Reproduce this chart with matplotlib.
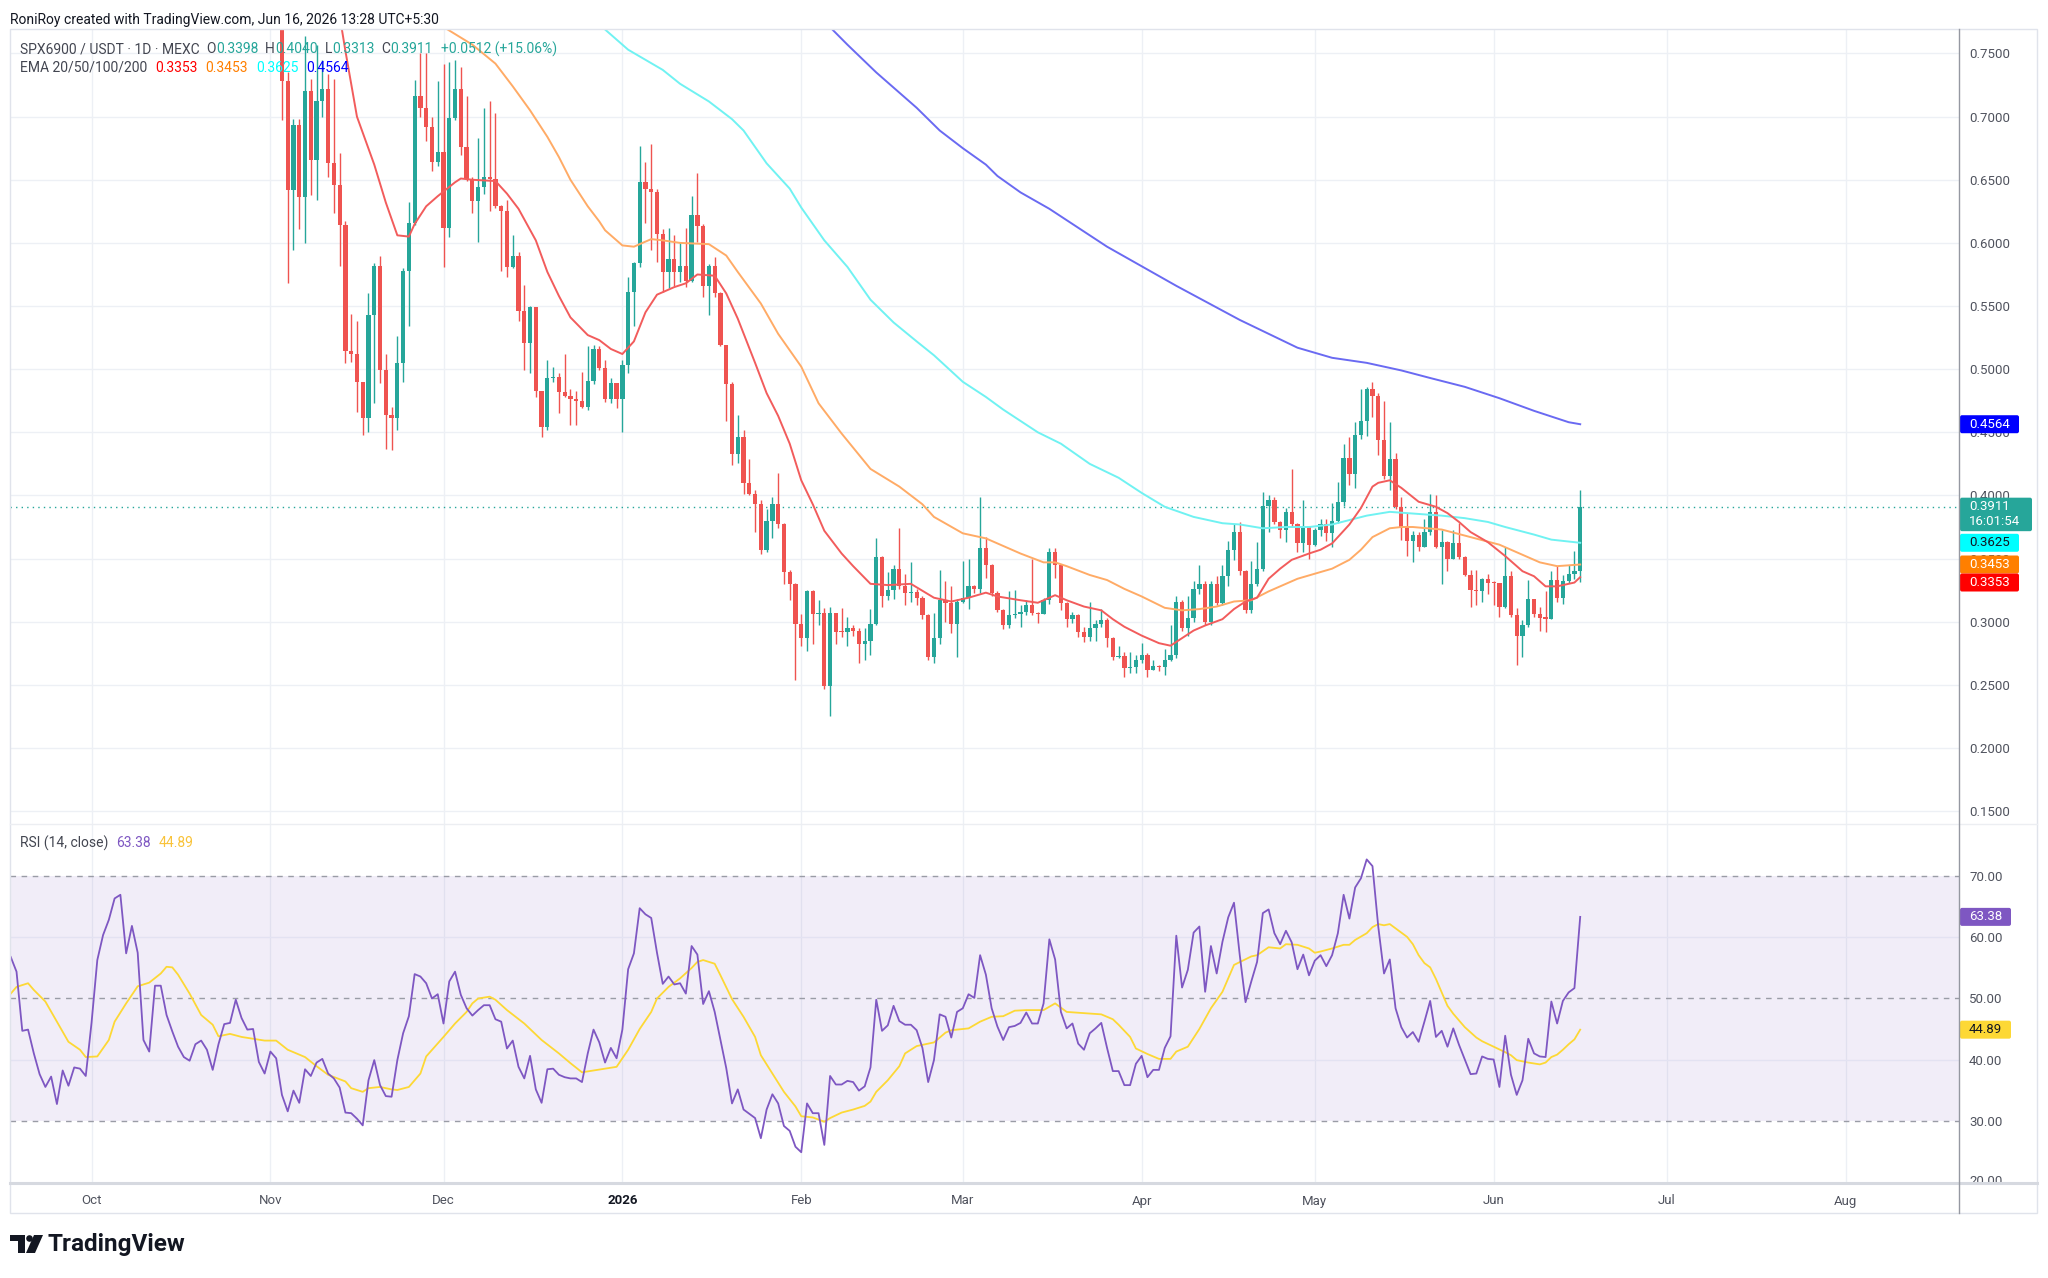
import numpy as np
import matplotlib
matplotlib.use("Agg")
import matplotlib.pyplot as plt
from matplotlib.patches import FancyBboxPatch, Rectangle, Circle, Polygon
from matplotlib.ticker import FormatStrFormatter

plt.rcParams['font.family'] = ['Roboto', 'DejaVu Sans']

# --- layout (pixels of the 2048x1278 canvas) ---
W, H = 2048, 1278
LEFT, AXIS_X, RIGHT = 10, 1959, 2037
PRICE_TOP, PANE_SPLIT, RSI_BOTTOM, FOOT = 29, 825, 1182, 1213

UP, DOWN = '#26a69a', '#ef5350'
TXT = '#131722'
GREY = '#50535e'
GRID = '#edf0f5'

# --- data, day 0 = 2025-11-01, one candle per day ---
first_day = 2
first_open = 0.790
closes = [
    0.728, 0.642, 0.693, 0.636, 0.720, 0.666, 0.712, 0.722, 0.663, 0.646,
    0.614, 0.514, 0.512, 0.490, 0.461, 0.543, 0.582, 0.499, 0.464, 0.461,
    0.505, 0.578, 0.616, 0.716, 0.707, 0.692, 0.664, 0.672, 0.612, 0.699,
    0.722, 0.676, 0.651, 0.633, 0.644, 0.652, 0.651, 0.629, 0.625, 0.581,
    0.590, 0.546, 0.521, 0.549, 0.483, 0.454, 0.493, 0.494, 0.482, 0.479,
    0.476, 0.475, 0.470, 0.491, 0.516, 0.501, 0.476, 0.489, 0.476, 0.503,
    0.561, 0.584, 0.648, 0.643, 0.640, 0.607, 0.577, 0.587, 0.577, 0.582,
    0.570, 0.622, 0.613, 0.566, 0.582, 0.560, 0.519, 0.488, 0.433, 0.446,
    0.410, 0.401, 0.393, 0.357, 0.380, 0.393, 0.377, 0.339, 0.330, 0.298,
    0.287, 0.324, 0.306, 0.307, 0.249, 0.307, 0.292, 0.2915, 0.295, 0.293,
    0.282, 0.285, 0.298, 0.351, 0.320, 0.325, 0.342, 0.328, 0.323, 0.3235,
    0.319, 0.305, 0.272, 0.287, 0.317, 0.315, 0.298, 0.316, 0.319, 0.328,
    0.326, 0.358, 0.345, 0.323, 0.309, 0.297, 0.305, 0.306, 0.308, 0.313,
    0.307, 0.306, 0.317, 0.355, 0.345, 0.315, 0.302, 0.305, 0.292, 0.288,
    0.295, 0.298, 0.301, 0.287, 0.272, 0.273, 0.263, 0.264, 0.270, 0.274,
    0.262, 0.265, 0.264, 0.270, 0.274, 0.316, 0.295, 0.303, 0.326, 0.330,
    0.300, 0.330, 0.315, 0.336, 0.357, 0.371, 0.340, 0.309, 0.330, 0.342,
    0.392, 0.396, 0.379, 0.373, 0.387, 0.377, 0.362, 0.375, 0.361, 0.373,
    0.377, 0.370, 0.380, 0.395, 0.430, 0.417, 0.448, 0.459, 0.484, 0.479,
    0.444, 0.415, 0.429, 0.391, 0.375, 0.364, 0.369, 0.359, 0.371, 0.387,
    0.359, 0.363, 0.350, 0.362, 0.351, 0.337, 0.325, 0.3245, 0.334, 0.331,
    0.3305, 0.312, 0.336, 0.305, 0.289, 0.297, 0.318, 0.306, 0.303, 0.3025,
    0.333, 0.319, 0.332, 0.338, 0.340, 0.3911,
]
highs = [
    0.800, 0.735, 0.698, 0.698, 0.764, 0.730, 0.757, 0.745, 0.734, 0.730,
    0.671, 0.617, 0.544, 0.538, 0.490, 0.560, 0.584, 0.590, 0.512, 0.470,
    0.526, 0.580, 0.632, 0.729, 0.750, 0.750, 0.700, 0.728, 0.742, 0.743,
    0.745, 0.739, 0.716, 0.652, 0.683, 0.707, 0.712, 0.703, 0.630, 0.634,
    0.606, 0.593, 0.567, 0.550, 0.549, 0.483, 0.507, 0.502, 0.497, 0.512,
    0.484, 0.483, 0.498, 0.518, 0.519, 0.518, 0.507, 0.493, 0.489, 0.507,
    0.573, 0.585, 0.677, 0.664, 0.678, 0.643, 0.611, 0.612, 0.606, 0.601,
    0.612, 0.637, 0.655, 0.615, 0.583, 0.589, 0.561, 0.519, 0.490, 0.464,
    0.452, 0.429, 0.404, 0.396, 0.389, 0.399, 0.418, 0.378, 0.341, 0.331,
    0.306, 0.325, 0.325, 0.317, 0.311, 0.312, 0.307, 0.311, 0.304, 0.297,
    0.295, 0.295, 0.310, 0.366, 0.352, 0.339, 0.345, 0.374, 0.338, 0.347,
    0.326, 0.320, 0.306, 0.307, 0.341, 0.332, 0.328, 0.318, 0.348, 0.350,
    0.329, 0.399, 0.367, 0.346, 0.324, 0.310, 0.324, 0.325, 0.313, 0.317,
    0.350, 0.308, 0.319, 0.358, 0.358, 0.346, 0.316, 0.308, 0.306, 0.296,
    0.316, 0.301, 0.310, 0.303, 0.288, 0.281, 0.276, 0.276, 0.274, 0.283,
    0.275, 0.270, 0.266, 0.278, 0.297, 0.320, 0.317, 0.320, 0.332, 0.345,
    0.332, 0.332, 0.336, 0.345, 0.364, 0.377, 0.379, 0.341, 0.348, 0.363,
    0.403, 0.400, 0.399, 0.380, 0.390, 0.421, 0.378, 0.396, 0.376, 0.374,
    0.381, 0.381, 0.394, 0.411, 0.441, 0.446, 0.458, 0.484, 0.486, 0.490,
    0.481, 0.475, 0.458, 0.434, 0.399, 0.386, 0.372, 0.371, 0.381, 0.401,
    0.400, 0.373, 0.364, 0.373, 0.378, 0.352, 0.341, 0.341, 0.335, 0.338,
    0.332, 0.331, 0.359, 0.340, 0.311, 0.301, 0.333, 0.318, 0.312, 0.324,
    0.340, 0.344, 0.337, 0.345, 0.356, 0.4040,
]
lows = [
    0.697, 0.568, 0.594, 0.611, 0.600, 0.638, 0.634, 0.700, 0.652, 0.624,
    0.582, 0.505, 0.506, 0.466, 0.448, 0.450, 0.473, 0.489, 0.437, 0.436,
    0.452, 0.490, 0.534, 0.614, 0.700, 0.681, 0.657, 0.661, 0.581, 0.605,
    0.697, 0.670, 0.649, 0.624, 0.601, 0.639, 0.625, 0.628, 0.578, 0.573,
    0.580, 0.538, 0.499, 0.497, 0.478, 0.446, 0.452, 0.490, 0.465, 0.478,
    0.456, 0.456, 0.469, 0.468, 0.488, 0.499, 0.474, 0.473, 0.469, 0.450,
    0.497, 0.534, 0.581, 0.616, 0.594, 0.585, 0.561, 0.564, 0.566, 0.569,
    0.565, 0.569, 0.601, 0.557, 0.543, 0.557, 0.518, 0.459, 0.424, 0.426,
    0.401, 0.400, 0.371, 0.354, 0.355, 0.366, 0.374, 0.330, 0.317, 0.254,
    0.281, 0.277, 0.282, 0.297, 0.247, 0.225, 0.282, 0.288, 0.281, 0.289,
    0.267, 0.270, 0.274, 0.297, 0.312, 0.317, 0.318, 0.326, 0.313, 0.316,
    0.313, 0.302, 0.270, 0.267, 0.282, 0.300, 0.291, 0.272, 0.315, 0.310,
    0.323, 0.323, 0.335, 0.320, 0.308, 0.294, 0.295, 0.303, 0.296, 0.305,
    0.305, 0.299, 0.306, 0.314, 0.335, 0.309, 0.296, 0.299, 0.288, 0.284,
    0.285, 0.285, 0.296, 0.280, 0.270, 0.271, 0.256, 0.259, 0.259, 0.267,
    0.256, 0.262, 0.261, 0.258, 0.269, 0.271, 0.293, 0.289, 0.300, 0.322,
    0.297, 0.297, 0.313, 0.313, 0.328, 0.349, 0.337, 0.307, 0.307, 0.328,
    0.340, 0.371, 0.377, 0.366, 0.363, 0.375, 0.355, 0.355, 0.350, 0.360,
    0.368, 0.364, 0.359, 0.378, 0.392, 0.408, 0.406, 0.445, 0.447, 0.462,
    0.432, 0.413, 0.404, 0.389, 0.365, 0.352, 0.347, 0.356, 0.359, 0.369,
    0.358, 0.330, 0.340, 0.350, 0.350, 0.336, 0.312, 0.313, 0.316, 0.322,
    0.313, 0.304, 0.311, 0.304, 0.266, 0.272, 0.296, 0.304, 0.293, 0.292,
    0.302, 0.316, 0.314, 0.331, 0.334, 0.3313,
]

# EMA lines: (day, value)
ema20_pts = [
    (12, 0.780), (13, 0.752), (15, 0.700), (18, 0.662), (20, 0.632), (22, 0.606),
    (24, 0.605), (25, 0.615), (27, 0.629), (29, 0.637), (32, 0.648), (33, 0.651),
    (35, 0.650), (39, 0.649), (41, 0.639), (43, 0.627), (46, 0.602), (48, 0.577),
    (50, 0.558), (52, 0.541), (55, 0.527), (57, 0.523), (59, 0.516), (61, 0.512),
    (63, 0.522), (65, 0.545), (67, 0.559), (70, 0.565), (72, 0.568), (74, 0.575),
    (77, 0.574), (79, 0.560), (81, 0.540), (84, 0.505), (86, 0.481), (88, 0.463),
    (90, 0.441), (92, 0.412), (94, 0.393), (96, 0.372), (99, 0.354), (101, 0.344),
    (104, 0.330), (107, 0.329), (111, 0.330), (115, 0.319), (118, 0.316), (121, 0.319),
    (124, 0.323), (126, 0.320), (130, 0.317), (133, 0.315), (136, 0.321), (138, 0.317),
    (141, 0.312), (144, 0.309), (146, 0.302), (148, 0.296), (151, 0.289), (154, 0.283),
    (156, 0.281), (158, 0.287), (160, 0.293), (162, 0.297), (165, 0.302), (167, 0.310),
    (169, 0.316), (171, 0.319), (173, 0.334), (175, 0.342), (177, 0.349), (180, 0.354),
    (182, 0.357), (184, 0.362), (187, 0.377), (189, 0.390), (191, 0.407), (192, 0.410),
    (194, 0.412), (196, 0.406), (199, 0.395), (202, 0.391), (204, 0.386), (206, 0.379),
    (208, 0.371), (211, 0.363), (214, 0.352), (217, 0.340), (219, 0.336), (221, 0.328),
    (223, 0.328), (226, 0.331), (227, 0.3353),
]
ema50_pts = [
    (30, 0.771), (35, 0.757), (39, 0.742), (42, 0.724), (45, 0.705), (48, 0.684),
    (50, 0.668), (52, 0.650), (55, 0.629), (57, 0.617), (58, 0.610), (61, 0.598),
    (63, 0.597), (66, 0.603), (68, 0.602), (71, 0.600), (76, 0.599), (79, 0.590),
    (81, 0.577), (85, 0.552), (88, 0.528), (92, 0.502), (95, 0.473), (99, 0.449),
    (104, 0.421), (109, 0.407), (113, 0.393), (115, 0.383), (120, 0.370), (124, 0.366),
    (127, 0.360), (130, 0.354), (134, 0.347), (136, 0.347), (138, 0.344), (142, 0.337),
    (145, 0.333), (148, 0.326), (151, 0.320), (155, 0.311), (158, 0.309), (161, 0.310),
    (164, 0.312), (167, 0.316), (170, 0.317), (173, 0.324), (176, 0.330), (178, 0.334),
    (181, 0.338), (184, 0.342), (187, 0.349), (189, 0.357), (191, 0.367), (194, 0.374),
    (196, 0.375), (198, 0.375), (203, 0.373), (208, 0.367), (213, 0.361), (217, 0.353),
    (220, 0.347), (223, 0.344), (227, 0.3453),
]
ema100_pts = [
    (56, 0.780), (58, 0.769), (62, 0.753), (65, 0.745), (68, 0.737), (71, 0.726),
    (76, 0.712), (80, 0.698), (82, 0.689), (86, 0.663), (90, 0.643), (92, 0.628),
    (96, 0.602), (100, 0.581), (104, 0.555), (108, 0.537), (112, 0.522), (115, 0.511),
    (120, 0.490), (124, 0.478), (127, 0.468), (130, 0.459), (133, 0.450), (137, 0.441),
    (142, 0.425), (147, 0.414), (151, 0.402), (155, 0.391), (160, 0.383), (165, 0.378),
    (168, 0.377), (172, 0.374), (176, 0.375), (180, 0.375), (184, 0.377), (190, 0.384),
    (194, 0.387), (197, 0.386), (203, 0.384), (207, 0.382), (211, 0.379), (214, 0.375),
    (219, 0.369), (222, 0.365), (227, 0.3625),
]
ema200_pts = [
    (95, 0.780), (100, 0.757), (105, 0.735), (112, 0.707), (116, 0.689), (120, 0.675),
    (124, 0.662), (126, 0.653), (130, 0.640), (135, 0.627), (145, 0.597), (157, 0.566),
    (168, 0.539), (178, 0.517), (184, 0.509), (190, 0.505), (192, 0.503), (196, 0.499),
    (201, 0.493), (207, 0.486), (213, 0.477), (219, 0.467), (225, 0.458), (227, 0.4564),
]

# RSI(14), one value per day from day -45 (2025-09-17)
rsi_first_day = -45
rsi_vals = [
    56.8, 54.4, 44.7, 44.9, 41.0, 37.6, 35.5, 37.2, 32.7, 38.2,
    35.7, 38.7, 38.5, 37.3, 46.0, 56.3, 60.4, 62.9, 66.4, 67.0,
    57.4, 61.9, 57.5, 43.2, 41.3, 52.1, 52.1, 47.3, 44.6, 42.1,
    40.4, 39.8, 42.5, 43.1, 41.6, 38.3, 42.5, 45.8, 46.0, 49.8,
    46.8, 44.9, 45.0, 39.6, 37.7, 41.3, 40.2, 34.2, 31.5, 34.9,
    32.9, 38.4, 37.3, 39.5, 40.1, 37.7, 36.9, 35.4, 31.3, 31.2,
    30.3, 29.2, 36.6, 39.9, 35.8, 34.0, 33.9, 39.9, 44.3, 47.1,
    54.0, 53.6, 52.5, 50.0, 50.7, 45.9, 52.8, 54.4, 50.6, 48.4,
    47.2, 48.1, 48.9, 48.9, 46.6, 46.2, 41.8, 43.1, 38.8, 36.9,
    40.6, 35.1, 32.9, 38.4, 38.5, 37.5, 37.1, 36.9, 36.9, 36.3,
    41.0, 44.9, 42.8, 39.5, 41.9, 40.2, 44.9, 54.8, 57.4, 64.8,
    63.8, 63.2, 57.5, 52.4, 53.6, 52.3, 52.5, 50.8, 58.6, 57.2,
    49.1, 51.2, 47.8, 43.2, 38.6, 32.8, 35.1, 31.8, 31.1, 30.4,
    27.1, 31.8, 34.3, 32.8, 29.1, 28.3, 25.7, 24.8, 32.8, 31.2,
    31.2, 26.0, 37.3, 35.9, 35.9, 36.5, 36.3, 34.9, 35.6, 38.7,
    49.8, 44.7, 45.6, 48.8, 46.3, 45.7, 45.7, 44.8, 41.9, 36.3,
    39.9, 47.4, 47.0, 43.6, 47.8, 48.4, 50.7, 50.1, 57.1, 53.9,
    48.4, 45.4, 43.2, 45.3, 45.5, 46.0, 47.7, 45.9, 45.9, 49.2,
    59.7, 56.4, 47.8, 45.1, 45.9, 42.6, 41.6, 44.3, 45.1, 46.0,
    41.9, 38.1, 38.1, 35.8, 35.8, 39.3, 40.6, 37.1, 38.3, 38.3,
    41.9, 43.8, 60.3, 51.8, 54.7, 60.8, 61.8, 51.1, 58.6, 54.1,
    59.3, 63.3, 65.7, 57.1, 49.4, 52.8, 56.0, 64.0, 64.6, 60.7,
    58.9, 61.1, 59.2, 54.8, 57.2, 53.8, 56.2, 57.1, 55.3, 57.1,
    60.7, 67.0, 63.1, 68.2, 69.7, 72.8, 71.7, 61.8, 54.1, 56.4,
    48.4, 45.3, 43.6, 44.5, 42.9, 46.2, 49.6, 43.7, 44.7, 42.1,
    45.1, 42.4, 40.0, 37.6, 37.7, 40.5, 40.1, 40.0, 35.5, 43.9,
    37.5, 34.2, 36.6, 43.4, 41.0, 40.5, 40.4, 49.5, 45.9, 49.6,
    51.0, 51.7, 63.38,
]
# RSI moving average (14): (day, value)
rsi_ma_pts = [
    (-45, 50.8), (-44, 51.9), (-42, 52.5), (-41, 51.4), (-39, 49.5), (-37, 46.2),
    (-35, 42.9), (-33, 41.6), (-32, 40.4), (-30, 40.5), (-28, 43.2), (-27, 46.2),
    (-25, 49.2), (-23, 52.0), (-21, 52.6), (-19, 54.1), (-18, 55.2), (-17, 55.1),
    (-16, 53.9), (-14, 50.8), (-12, 47.3), (-10, 45.7), (-9, 43.8), (-7, 44.2),
    (-5, 43.7), (-3, 43.4), (-1, 43.1), (1, 43.1), (3, 41.6), (6, 40.4), (8, 38.9),
    (10, 37.5), (13, 36.4), (14, 35.3), (16, 34.7), (17, 35.3), (19, 35.5), (21, 35.1),
    (22, 35.0), (24, 35.5), (26, 37.7), (27, 40.5), (30, 43.7), (32, 45.9), (34, 47.8),
    (35, 49.2), (36, 50.0), (38, 50.3), (39, 49.8), (41, 48.1), (44, 45.9), (47, 43.2),
    (50, 41.0), (52, 39.4), (54, 37.9), (56, 38.2), (58, 38.5), (60, 38.8), (62, 41.6),
    (64, 45.0), (66, 47.8), (67, 50.0), (69, 51.9), (71, 53.3), (73, 55.0), (74, 56.0),
    (75, 56.3), (77, 55.7), (78, 53.8), (80, 49.9), (82, 47.0), (84, 43.7), (85, 40.7),
    (87, 37.7), (89, 34.7), (91, 32.3), (92, 30.7), (94, 30.5), (96, 29.8), (97, 30.4),
    (99, 31.3), (101, 31.8), (103, 32.4), (104, 33.1), (105, 34.7), (107, 36.6),
    (109, 38.9), (110, 41.0), (112, 42.2), (115, 42.8), (117, 44.4), (118, 44.8),
    (121, 45.1), (123, 46.2), (125, 47.0), (127, 47.1), (129, 48.0), (131, 48.1),
    (134, 48.1), (136, 49.2), (138, 47.8), (141, 47.6), (144, 47.4), (146, 46.6),
    (147, 45.7), (149, 43.7), (150, 41.8), (152, 40.9), (154, 40.1), (156, 40.1),
    (157, 41.3), (159, 42.1), (161, 45.0), (163, 48.4), (165, 51.1), (167, 55.5),
    (170, 56.9), (171, 57.1), (173, 58.4), (175, 58.2), (176, 58.9), (178, 58.8),
    (180, 58.2), (181, 57.5), (182, 57.7), (184, 58.2), (186, 58.8), (187, 58.8),
    (188, 59.6), (190, 60.7), (191, 61.7), (192, 62.2), (193, 62.0), (194, 62.2),
    (195, 61.5), (197, 60.1), (198, 58.9), (199, 57.1), (200, 55.8), (201, 55.1),
    (202, 53.2), (204, 48.8), (205, 47.5), (206, 46.4), (207, 45.3), (209, 43.6),
    (210, 43.0), (212, 42.1), (214, 41.2), (215, 40.7), (216, 39.9), (218, 39.5),
    (220, 39.2), (221, 39.5), (222, 40.4), (223, 40.8), (224, 41.6), (225, 42.5),
    (226, 43.3), (227, 44.89),
]

month_starts = ['2025-10-01', '2025-11-01', '2025-12-01', '2026-01-01', '2026-02-01',
                '2026-03-01', '2026-04-01', '2026-05-01', '2026-06-01', '2026-07-01',
                '2026-08-01']
month_labels = ['Oct', 'Nov', 'Dec', '2026', 'Feb', 'Mar', 'Apr', 'May', 'Jun', 'Jul', 'Aug']
base = np.datetime64('2025-11-01')
month_days = [int((np.datetime64(m) - base).astype(int)) for m in month_starts]

price_ticks = [0.15, 0.20, 0.25, 0.30, 0.35, 0.40, 0.45, 0.50, 0.55, 0.60, 0.65, 0.70, 0.75]
rsi_ticks = [30, 40, 50, 60, 70]

X_LIM = (-45.13, 292.65)
PRICE_LIM = (0.139, 0.7694)
RSI_LIM = (19.92, 78.44)

# --- figure ---
fig = plt.figure(figsize=(W / 100, H / 100), dpi=100)
fig.patch.set_facecolor('white')


def frac_box(x0, y0, x1, y1):
    return [x0 / W, 1 - y1 / H, (x1 - x0) / W, (y1 - y0) / H]


ax = fig.add_axes(frac_box(LEFT, PRICE_TOP, AXIS_X, PANE_SPLIT))
rax = fig.add_axes(frac_box(LEFT, PANE_SPLIT, AXIS_X, RSI_BOTTOM))
ov = fig.add_axes([0, 0, 1, 1], zorder=10)
ov.set_xlim(0, W)
ov.set_ylim(H, 0)
ov.axis('off')

for a in (ax, rax):
    a.set_xlim(*X_LIM)
    for s in a.spines.values():
        s.set_visible(False)
    a.set_facecolor('white')
    for d in month_days:
        a.axvline(d, color=GRID, lw=1, zorder=0)
ax.set_ylim(*PRICE_LIM)
rax.set_ylim(*RSI_LIM)

# price pane
for p in price_ticks:
    ax.axhline(p, color=GRID, lw=1, zorder=0)
ax.set_xticks([])
ax.yaxis.tick_right()
ax.set_yticks(price_ticks)
ax.yaxis.set_major_formatter(FormatStrFormatter('%.4f'))
ax.tick_params(axis='y', length=0, pad=7.2, labelsize=9.5, labelcolor=GREY)

c = np.array(closes)
hi = np.array(highs)
lo = np.array(lows)
o = np.concatenate([[first_open], c[:-1]])
days = np.arange(first_day, first_day + len(c))
cols = np.where(c >= o, UP, DOWN)
ax.vlines(days, lo, hi, colors=cols, lw=1.0, zorder=3)
ax.bar(days, np.maximum(np.abs(c - o), 0.0009), width=0.74, bottom=np.minimum(o, c),
       color=cols, linewidth=0, zorder=4)

ema_styles = [(ema200_pts, '#6a6af2'), (ema100_pts, '#70f2f2'),
              (ema50_pts, '#ffab66'), (ema20_pts, '#f25c5c')]
for pts, col in ema_styles:
    xs, ys = zip(*pts)
    ax.plot(xs, ys, color=col, lw=1.4, zorder=5, solid_joinstyle='round')

ax.axhline(closes[-1], color=UP, lw=1, ls=(0, (1, 3)), zorder=2)

# RSI pane
rax.fill_between(X_LIM, 30, 70, color='#7e57c2', alpha=0.1, lw=0, zorder=1)
for v in (40, 60):
    rax.axhline(v, color='#e3e2f2', lw=1, zorder=1)
for v in (30, 50, 70):
    rax.axhline(v, color='#9a9ca6', lw=1, ls=(0, (4, 4)), zorder=2)
rdays = np.arange(rsi_first_day, rsi_first_day + len(rsi_vals))
rax.plot(rdays, rsi_vals, color='#7e57c2', lw=1.3, zorder=4)
mx, my = zip(*rsi_ma_pts)
rax.plot(mx, my, color='#fdd835', lw=1.3, zorder=3)
rax.yaxis.tick_right()
rax.set_yticks(rsi_ticks)
rax.yaxis.set_major_formatter(FormatStrFormatter('%.2f'))
rax.tick_params(axis='y', length=0, pad=7.2, labelsize=9.5, labelcolor=GREY)
rax.set_xticks(month_days, month_labels)
rax.tick_params(axis='x', length=0, pad=9, labelsize=9.5, labelcolor=GREY)
for lab in rax.get_xticklabels():
    if lab.get_text() == '2026':
        lab.set_fontweight('bold')
        lab.set_color(TXT)

# --- frame lines ---
ov.add_patch(Rectangle((LEFT, PRICE_TOP), RIGHT - LEFT, FOOT - PRICE_TOP, fill=False,
                       ec='#e0e3eb', lw=1, zorder=1))
ov.plot([LEFT, RIGHT], [PANE_SPLIT - 1, PANE_SPLIT - 1], color='#eceef2', lw=1, zorder=1)
ov.plot([LEFT, RIGHT], [RSI_BOTTOM + 0.5, RSI_BOTTOM + 0.5], color='#d6d9e0', lw=2.2, zorder=8)
ov.plot([AXIS_X, AXIS_X], [PRICE_TOP, FOOT], color='#9598a1', lw=1, zorder=8)

# clipped 20.00 label at the bottom of the RSI scale
t20 = ov.text(1969, H - rax.transData.transform((0, 20))[1], '20.00', fontsize=9.5,
              color=GREY, va='center', ha='left', zorder=3)
t20.set_clip_path(Rectangle((AXIS_X, PRICE_TOP), RIGHT - AXIS_X, RSI_BOTTOM - PRICE_TOP,
                            transform=ov.transData))


def y_of(a, v):
    return H - a.transData.transform((0, v))[1]


def tag(y_center, text, fc, tc, width=59, h=18, second=None):
    top = y_center - h / 2
    hh = h if second is None else 33.5
    ov.add_patch(FancyBboxPatch((AXIS_X + 1, top), width, hh,
                                boxstyle='round,pad=0,rounding_size=2', fc=fc, ec='none', zorder=4))
    ov.text(1969, y_center, text, fontsize=9.5, color=tc, va='center', ha='left', zorder=5)
    if second:
        ov.text(1969, y_center + 15, second, fontsize=9.5, color=tc, va='center', ha='left',
                zorder=5)
    return top + hh


# price scale tags, stacked so they do not overlap
tags = [(ema200_pts[-1][1], '0.4564', '#0000ff', 'white', 59, None),
        (closes[-1], '0.3911', UP, 'white', 72, '16:01:54'),
        (ema100_pts[-1][1], '0.3625', '#00ffff', TXT, 59, None),
        (ema50_pts[-1][1], '0.3453', '#ff7f00', 'white', 59, None),
        (ema20_pts[-1][1], '0.3353', '#ff0000', 'white', 59, None)]
prev_bottom = 0
for val, txt, fc, tc, wd, sec in tags:
    yc = max(y_of(ax, val), prev_bottom + 9)
    prev_bottom = tag(yc, txt, fc, tc, wd, second=sec)

tag(y_of(rax, rsi_vals[-1]), '63.38', '#7e57c2', 'white', 51)
tag(y_of(rax, rsi_ma_pts[-1][1]), '44.89', '#fdd835', TXT, 51)

# --- legend texts ---
renderer = fig.canvas.get_renderer()


def run_text(x, y, parts, size=10, weight='normal'):
    for s, col, gap in parts:
        t = ov.text(x, y, s, color=col, fontsize=size, va='center', ha='left',
                    fontweight=weight, zorder=6)
        x += t.get_window_extent(renderer).width + gap


LG = '#434651'
ov.text(10, 20, 'RoniRoy created with TradingView.com, Jun 16, 2026 13:28 UTC+5:30',
        fontsize=10, color=TXT, va='center', ha='left')
run_text(20, 49, [('SPX6900 / USDT · 1D · MEXC', LG, 7), ('O', LG, 0), ('0.3398', UP, 7),
                  ('H', LG, 0), ('0.4040', UP, 7), ('L', LG, 0), ('0.3313', UP, 7),
                  ('C', LG, 0), ('0.3911', UP, 8), ('+0.0512 (+15.06%)', UP, 0)])
run_text(20, 68, [('EMA 20/50/100/200', LG, 8), ('0.3353', '#ff0000', 8),
                  ('0.3453', '#ff7f00', 8), ('0.3625', '#00ffff', 8), ('0.4564', '#0000ff', 0)])
run_text(20, 843, [('RSI (14, close)', LG, 8), ('63.38', '#7e57c2', 8),
                   ('44.89', '#f9c33a', 0)])

# --- TradingView logo ---
ov.add_patch(Polygon([(10, 1235), (25, 1235), (25, 1253), (18, 1253), (18, 1241), (10, 1241)],
                     closed=True, fc=TXT, ec='none'))
ov.add_patch(Circle((29.5, 1238.5), 3.3, fc=TXT, ec='none'))
ov.add_patch(Polygon([(34, 1235), (43, 1235), (35, 1253), (26, 1253)], closed=True,
                     fc=TXT, ec='none'))
ov.text(47, 1244, 'TradingView', fontsize=17.5, fontweight='bold', color=TXT,
        va='center', ha='left')

fig.savefig('out.png', dpi=100, facecolor='white')
